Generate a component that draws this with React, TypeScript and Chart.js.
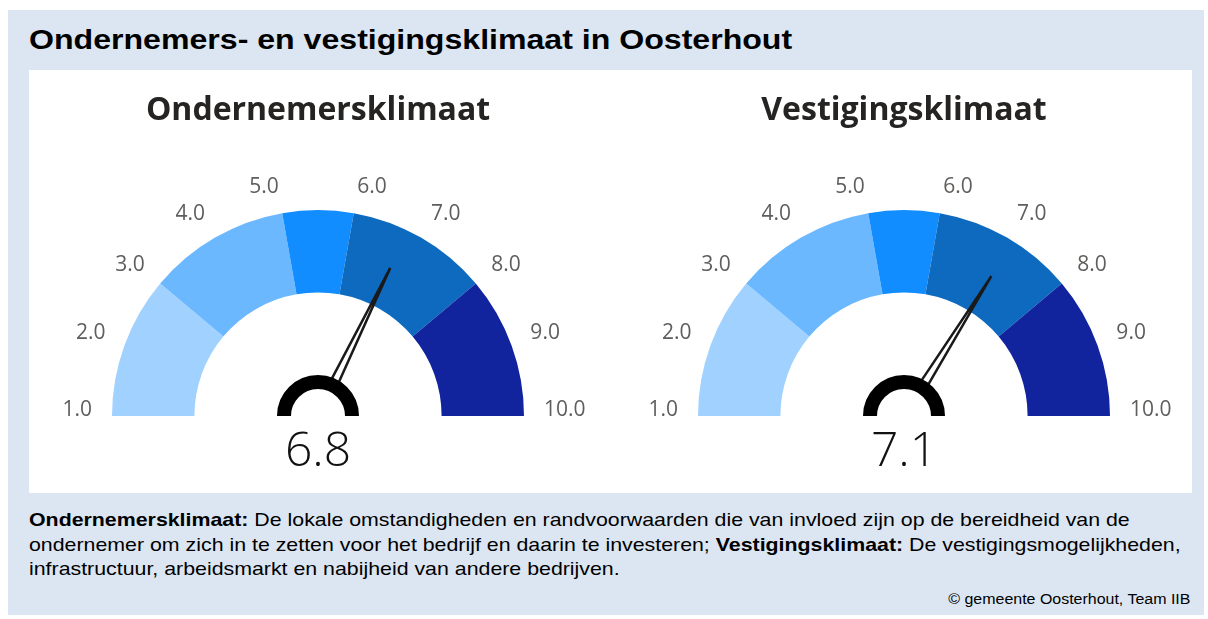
import React, { useEffect, useRef } from "react";
import { Chart, registerables } from "chart.js";

Chart.register(...registerables);

const mainTitle = "Ondernemers- en vestigingsklimaat in Oosterhout";
const gaugeTitles = ["Ondernemersklimaat", "Vestigingsklimaat"];
const gaugeValues = [6.8, 7.1];
const bandEdges = [1, 3, 5, 6, 8, 10];
const bandColors = ["#A0D1FF", "#6CB8FF", "#118DFF", "#0D6ABF", "#12239E"];
const tickValues = [1, 2, 3, 4, 5, 6, 7, 8, 9, 10];
const tickLabels = tickValues.map((v) => v.toFixed(1));
const sourceText = "© gemeente Oosterhout, Team IIB";

const bandSizes = bandEdges.slice(1).map((e, i) => e - bandEdges[i]);
const bandLabels = bandEdges.slice(1).map((e, i) => `${bandEdges[i]}-${e}`);

const gaugePlugin = {
  id: "gaugeDecor",
  afterDatasetsDraw(chart: any, _args: any, opts: any) {
    const ctx: CanvasRenderingContext2D = chart.ctx;
    const arcs = chart.getDatasetMeta(0).data;
    const first = arcs[0];
    const last = arcs[arcs.length - 1];
    const cx = first.x;
    const cy = first.y;
    const R = first.outerRadius;
    const a0 = first.startAngle;
    const a1 = last.endAngle;
    const min = bandEdges[0];
    const max = bandEdges[bandEdges.length - 1];
    const ang = (v: number) => a0 + ((v - min) / (max - min)) * (a1 - a0);

    ctx.save();
    // tick labels
    ctx.font = '21px "Open Sans"';
    ctx.fillStyle = "#605E5C";
    ctx.textBaseline = "alphabetic";
    tickValues.forEach((v, i) => {
      const a = ang(v);
      const r = R + 20;
      const x = cx + r * Math.cos(a);
      const y = cy + r * Math.sin(a);
      ctx.textAlign = Math.cos(a) < -1e-6 ? "right" : "left";
      ctx.fillText(tickLabels[i], x, y);
    });

    // needle
    const value = opts.value as number;
    const a = ang(value);
    const ux = Math.cos(a);
    const uy = Math.sin(a);
    const px = -uy;
    const py = ux;
    const tipR = R * 0.8;
    const baseR = 38;
    const hw = 4;
    ctx.beginPath();
    ctx.moveTo(cx + baseR * ux + hw * px, cy + baseR * uy + hw * py);
    ctx.lineTo(cx + tipR * ux, cy + tipR * uy);
    ctx.lineTo(cx + baseR * ux - hw * px, cy + baseR * uy - hw * py);
    ctx.strokeStyle = "#1a1a1a";
    ctx.lineWidth = 2.5;
    ctx.lineJoin = "miter";
    ctx.stroke();

    // hub ring
    ctx.beginPath();
    ctx.arc(cx, cy, 34, Math.PI, 2 * Math.PI);
    ctx.lineWidth = 14;
    ctx.lineCap = "butt";
    ctx.strokeStyle = "#000000";
    ctx.stroke();

    // value
    ctx.font = '300 48px "Open Sans"';
    ctx.fillStyle = "#111111";
    ctx.textAlign = "center";
    ctx.fillText(value.toFixed(1), cx, cy + 50);

    // title
    ctx.font = 'bold 32px "Open Sans"';
    ctx.fillStyle = "#252423";
    ctx.fillText(opts.title, cx, cy - 296);
    ctx.restore();
  },
};

function Gauge(props: { index: number; width: number; padLeft: number }) {
  const ref = useRef<HTMLCanvasElement | null>(null);
  const height = 423;
  useEffect(() => {
    if (!ref.current) return;
    const padRight = props.width - props.padLeft - 412;
    const chart = new Chart(ref.current, {
      type: "doughnut",
      data: {
        labels: bandLabels,
        datasets: [
          {
            data: bandSizes,
            backgroundColor: bandColors,
            borderWidth: 0,
            hoverOffset: 0,
          },
        ],
      },
      options: {
        animation: false,
        responsive: false,
        maintainAspectRatio: false,
        rotation: -90,
        circumference: 180,
        cutout: "60%",
        layout: { padding: { left: props.padLeft, right: padRight, top: 140, bottom: 77 } },
        events: [],
        plugins: {
          legend: { display: false },
          tooltip: { enabled: false },
          title: { display: false },
          gaugeDecor: { value: gaugeValues[props.index], title: gaugeTitles[props.index] },
        } as any,
      },
      plugins: [gaugePlugin as any],
    });
    return () => chart.destroy();
  }, []);
  return (
    <canvas
      ref={ref}
      width={props.width}
      height={height}
      style={{ width: props.width, height, display: "block" }}
    />
  );
}

export default function App() {
  const body: React.CSSProperties = {
    position: "absolute",
    left: 29,
    fontFamily: '"Liberation Sans", Arial, sans-serif',
    fontSize: 19,
    lineHeight: "24.5px",
    color: "#000",
    whiteSpace: "pre",
    transformOrigin: "left top",
    transform: "scaleX(1.123)",
  };
  return (
    <div style={{ position: "absolute", left: 0, top: 0, width: 1208, height: 619, background: "#fff", overflow: "hidden" }}>
      <div style={{ position: "absolute", left: 8, top: 10, width: 1196, height: 605, background: "#DCE6F2" }} />
      <div
        style={{
          position: "absolute",
          left: 29,
          top: 26,
          fontFamily: '"Liberation Sans", Arial, sans-serif',
          fontWeight: "bold",
          fontSize: 28,
          lineHeight: "28px",
          color: "#000",
          whiteSpace: "nowrap",
          transformOrigin: "left top",
          transform: "scaleX(1.146)",
        }}
      >
        {mainTitle}
      </div>
      <div style={{ position: "absolute", left: 29, top: 70, width: 1163, height: 423, background: "#fff", display: "flex" }}>
        <Gauge index={0} width={582} padLeft={83} />
        <Gauge index={1} width={581} padLeft={87} />
      </div>
      <div style={{ ...body, top: 508 }}>
        <b>Ondernemersklimaat:</b>
        {" De lokale omstandigheden en randvoorwaarden die van invloed zijn op de bereidheid van de\nondernemer om zich in te zetten voor het bedrijf en daarin te investeren; "}
        <b>Vestigingsklimaat:</b>
        {" De vestigingsmogelijkheden,\ninfrastructuur, arbeidsmarkt en nabijheid van andere bedrijven."}
      </div>
      <div
        style={{
          position: "absolute",
          right: 1208 - 1190,
          top: 591,
          fontFamily: '"Liberation Sans", Arial, sans-serif',
          fontSize: 14,
          lineHeight: "16px",
          color: "#000",
          whiteSpace: "nowrap",
          transformOrigin: "right top",
          transform: "scaleX(1.14)",
        }}
      >
        {sourceText}
      </div>
    </div>
  );
}
